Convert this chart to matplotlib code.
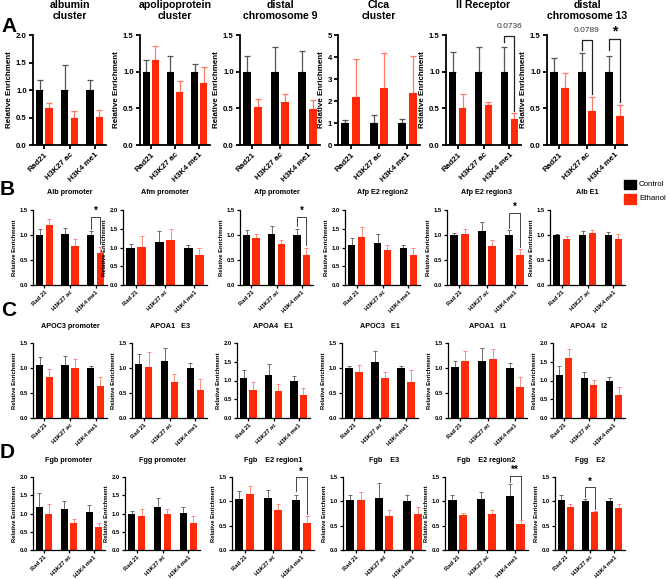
import matplotlib
matplotlib.use("Agg")
import matplotlib.pyplot as plt
from matplotlib.patches import Rectangle
import numpy as np

plt.rcParams['font.family'] = ['Liberation Sans', 'DejaVu Sans']

W, H = 669, 579
CTRL = '#000000'
ETH = '#ff2a0a'

# ---------------- data ----------------
groups_A = ["Rad21", "H3K27 ac", "H3K4 me1"]
groups_BCD = ["Rad 21", "H3K27 ac", "H3K4 me1"]

A_titles = ["albumin\ncluster", "apolipoprotein\ncluster", "distal\nchromosome 9",
            "Clca\ncluster", "Il Receptor", "distal\nchromosome 13"]
A_ymax = [2.0, 1.5, 1.5, 5, 1.5, 1.5]
A_ystep = [0.5, 0.5, 0.5, 1, 0.5, 0.5]
A_ctrl = [[1, 1, 1], [1, 1, 1], [1, 1, 1], [1, 1, 1], [1, 1, 1], [1, 1, 1]]
A_ctrl_err = [[0.18, 0.45, 0.19], [0.16, 0.21, 0.10], [0.22, 0.33, 0.28],
              [0.15, 0.35, 0.19], [0.27, 0.33, 0.34], [0.19, 0.25, 0.22]]
A_eth = [[0.68, 0.49, 0.51], [1.16, 0.72, 0.85], [0.52, 0.59, 0.49],
         [2.19, 2.58, 2.38], [0.50, 0.54, 0.36], [0.78, 0.47, 0.40]]
A_eth_err = [[0.08, 0.12, 0.12], [0.19, 0.15, 0.21], [0.11, 0.11, 0.12],
             [1.70, 1.62, 1.65], [0.20, 0.04, 0.07], [0.20, 0.19, 0.14]]

B_titles = ["Alb promoter", "Afm promoter", "Afp promoter",
            "Afp E2 region2", "Afp E2 region3", "Alb E1"]
B_ymax = [1.5, 2.0, 1.5, 2.0, 1.5, 1.5]
B_ctrl = [[1.01, 1.02, 1.00], [1.00, 1.15, 1.00], [1.00, 1.03, 1.01],
          [1.07, 1.13, 1.00], [1.00, 1.08, 1.01], [1.00, 1.00, 1.00]]
B_ctrl_err = [[0.12, 0.13, 0.08], [0.10, 0.28, 0.07], [0.10, 0.16, 0.12],
              [0.18, 0.22, 0.06], [0.05, 0.19, 0.10], [0.02, 0.08, 0.07]]
B_eth = [[1.21, 0.78, 0.65], [1.02, 1.20, 0.81], [0.95, 0.83, 0.60],
         [1.28, 0.93, 0.80], [1.02, 0.78, 0.61], [0.93, 1.05, 0.93]]
B_eth_err = [[0.11, 0.15, 0.12], [0.28, 0.29, 0.19], [0.07, 0.07, 0.15],
             [0.26, 0.14, 0.18], [0.11, 0.13, 0.12], [0.05, 0.05, 0.09]]

C_titles = ["APOC3 promoter", "APOA1   E3", "APOA4   E1",
            "APOC3   E1", "APOA1   I1", "APOA4   I2"]
C_ymax = [1.5, 1.5, 2.0, 1.5, 1.5, 2.0]
C_ctrl = [[1.07, 1.07, 1.00], [1.08, 1.15, 1.01], [1.06, 1.15, 1.00],
          [1.00, 1.13, 1.00], [1.02, 1.15, 1.00], [1.14, 1.07, 1.00]]
C_ctrl_err = [[0.16, 0.18, 0.05], [0.21, 0.26, 0.10], [0.21, 0.30, 0.13],
              [0.05, 0.22, 0.05], [0.13, 0.25, 0.10], [0.24, 0.17, 0.09]]
C_eth = [[0.83, 1.00, 0.65], [1.03, 0.73, 0.57], [0.75, 0.71, 0.62],
         [0.92, 0.81, 0.73], [1.15, 1.18, 0.62], [1.61, 0.87, 0.62]]
C_eth_err = [[0.15, 0.19, 0.18], [0.29, 0.15, 0.22], [0.20, 0.20, 0.17],
             [0.15, 0.11, 0.24], [0.20, 0.20, 0.20], [0.23, 0.15, 0.22]]

D_titles = ["Fgb promoter", "Fgg promoter", "Fgb    E2 region1",
            "Fgb    E3", "Fgb    E2 region2", "Fgg    E2"]
D_ymax = [2.0, 2.0, 1.5, 1.5, 1.5, 1.5]
D_ctrl = [[1.19, 1.13, 1.05], [1.00, 1.18, 1.02], [1.05, 1.07, 1.02],
          [1.02, 1.07, 1.01], [1.02, 1.05, 1.10], [1.02, 1.00, 1.01]]
D_ctrl_err = [[0.36, 0.22, 0.17], [0.08, 0.25, 0.16], [0.16, 0.17, 0.12],
              [0.10, 0.31, 0.11], [0.12, 0.14, 0.26], [0.10, 0.04, 0.06]]
D_eth = [[1.00, 0.75, 0.62], [0.93, 0.98, 0.75], [1.16, 0.83, 0.56],
         [1.02, 0.69, 0.73], [0.72, 0.75, 0.53], [0.88, 0.78, 0.87]]
D_eth_err = [[0.25, 0.11, 0.13], [0.18, 0.14, 0.18], [0.15, 0.12, 0.13],
             [0.18, 0.13, 0.16], [0.05, 0.08, 0.08], [0.06, 0.03, 0.07]]

# significance brackets: (row, panel, group, y_top, y_left, y_right, label)
brackets = [
    ("A", 4, 2, 1.48, 1.40, 0.46, "0.0736"),
    ("A", 5, 1, 1.43, 1.30, 0.70, "0.0789"),
    ("A", 5, 2, 1.44, 1.30, 0.58, "*"),
    ("B", 0, 2, 1.37, 1.13, 0.82, "*"),
    ("B", 2, 2, 1.37, 1.18, 0.80, "*"),
    ("B", 4, 2, 1.45, 1.15, 0.77, "*"),
    ("D", 2, 2, 1.49, 1.21, 0.74, "*"),
    ("D", 4, 2, 1.53, 1.40, 0.63, "**"),
    ("D", 5, 1, 1.29, 1.08, 0.85, "*"),
]

# ---------------- layout ----------------
fig = plt.figure(figsize=(W / 100, H / 100), dpi=100)

rows = {
    "A": dict(top=35, bottom=145, lefts=[33, 140, 240, 338, 446, 547],
              rights=[106, 210, 320, 420, 521, 627]),
    "B": dict(top=210, bottom=285, lefts=[33, 123, 240, 345, 447, 550],
              rights=[107, 207, 313, 420, 527, 625]),
    "C": dict(top=343, bottom=418, lefts=[33, 132, 237, 342, 448, 553],
              rights=[107, 207, 310, 418, 527, 625]),
    "D": dict(top=477, bottom=550, lefts=[33, 125, 232, 343, 445, 555],
              rights=[105, 200, 314, 425, 528, 625]),
}


def px_axes(l, t, r, b):
    return fig.add_axes([l / W, 1 - b / H, (r - l) / W, (b - t) / H])


axes = {}
x = np.arange(3)
off = 0.19
bw = 0.29


def draw_panel(rowkey, i, ctrl, cerr, eth, eerr, ymax, ystep, title, big):
    r = rows[rowkey]
    ax = px_axes(r["lefts"][i], r["top"], r["rights"][i], r["bottom"])
    axes[(rowkey, i)] = ax
    lw_sp = 1.3 if big else 0.9
    elw = 0.9 if big else 0.6
    cap = 2.0 if big else 1.4
    ax.bar(x - off, ctrl, bw, color=CTRL, zorder=2)
    ax.bar(x + off, eth, bw, color=ETH, zorder=2)
    ax.errorbar(x - off, ctrl, yerr=[np.zeros(3), cerr], fmt='none',
                ecolor='#555555', elinewidth=elw, capsize=cap, capthick=elw, zorder=1)
    ax.errorbar(x + off, eth, yerr=[np.zeros(3), eerr], fmt='none',
                ecolor='#ff7a66', elinewidth=elw, capsize=cap, capthick=elw, zorder=1)
    ax.set_xlim(-0.45, 2.45)
    ax.set_ylim(0, ymax)
    ticks = np.arange(0, ymax + 1e-9, ystep)
    ax.set_yticks(ticks)
    if ystep >= 1:
        ax.set_yticklabels([f"{t:.0f}" for t in ticks])
    else:
        ax.set_yticklabels([f"{t:.1f}" for t in ticks])
    for s in ["top", "right"]:
        ax.spines[s].set_visible(False)
    for s in ["left", "bottom"]:
        ax.spines[s].set_linewidth(lw_sp)
    ax.set_xticks(x)
    if big:
        ax.set_xticklabels(groups_A, rotation=45, ha='right', rotation_mode='anchor',
                           fontsize=5.8, fontweight='bold')
        ax.tick_params(axis='y', labelsize=5.6, width=lw_sp, length=3, pad=1.5)
        ax.tick_params(axis='x', width=lw_sp, length=3, pad=1.5)
        for lab in ax.get_yticklabels():
            lab.set_fontweight('bold')
        ax.set_ylabel("Relative Enrichment", fontsize=5.8, fontweight='bold', labelpad=2)
    else:
        ax.set_xticklabels(groups_BCD, rotation=45, ha='right', rotation_mode='anchor',
                           fontsize=4.2, fontweight='bold')
        ax.tick_params(axis='y', labelsize=4.2, width=lw_sp, length=2, pad=1.5)
        ax.tick_params(axis='x', width=lw_sp, length=2, pad=1.5)
        for lab in ax.get_yticklabels():
            lab.set_fontweight('bold')
        ax.set_ylabel("Relative Enrichment", fontsize=4.2, fontweight='bold', labelpad=2)
    cx = (r["lefts"][i] + r["rights"][i]) / 2
    if big:
        fig.text(cx / W, 1 - 0 / H, title, ha='center', va='top', fontsize=7.6,
                 fontweight='bold', linespacing=1.1)
    else:
        fig.text(cx / W, 1 - (r["top"] - 17) / H, title, ha='center', va='center',
                 fontsize=5.2, fontweight='bold')
    return ax


for i in range(6):
    draw_panel("A", i, A_ctrl[i], A_ctrl_err[i], A_eth[i], A_eth_err[i],
               A_ymax[i], A_ystep[i], A_titles[i], True)
    draw_panel("B", i, B_ctrl[i], B_ctrl_err[i], B_eth[i], B_eth_err[i],
               B_ymax[i], 0.5, B_titles[i], False)
    draw_panel("C", i, C_ctrl[i], C_ctrl_err[i], C_eth[i], C_eth_err[i],
               C_ymax[i], 0.5, C_titles[i], False)
    draw_panel("D", i, D_ctrl[i], D_ctrl_err[i], D_eth[i], D_eth_err[i],
               D_ymax[i], 0.5, D_titles[i], False)

for rowkey, i, g, ytop, yl, yr, lab in brackets:
    ax = axes[(rowkey, i)]
    big = rowkey == "A"
    x0, x1 = g - off, g + off
    ax.plot([x0, x0, x1, x1], [yl, ytop, ytop, yr], color='#222222',
            lw=0.9 if big else 0.6, clip_on=False, zorder=3)
    ymax = ax.get_ylim()[1]
    if lab.startswith("0."):
        ax.text(g, ytop + 0.06 * ymax, lab, ha='center', va='bottom', fontsize=6.0,
                color='#333333', clip_on=False)
    else:
        ax.text(g, ytop + 0.005 * ymax, lab, ha='center', va='bottom',
                fontsize=10 if big else 7, fontweight='bold', clip_on=False)

# panel letters
for letter, (lx, ly) in {"A": (1, 27), "B": (0, 189), "C": (1, 310), "D": (0, 452)}.items():
    fig.text(lx / W, 1 - ly / H, letter, ha='left', va='center', fontsize=15,
             fontweight='bold')

# legend
for lab, col, yc in [("Control", CTRL, 184), ("Ethanol", ETH, 199)]:
    fig.patches.append(Rectangle((624 / W, 1 - (yc + 4.5) / H), 12 / W, 9 / H,
                                 transform=fig.transFigure, color=col))
    fig.text(639 / W, 1 - yc / H, lab, ha='left', va='center', fontsize=5.7)

fig.savefig("out.png", dpi=100)
